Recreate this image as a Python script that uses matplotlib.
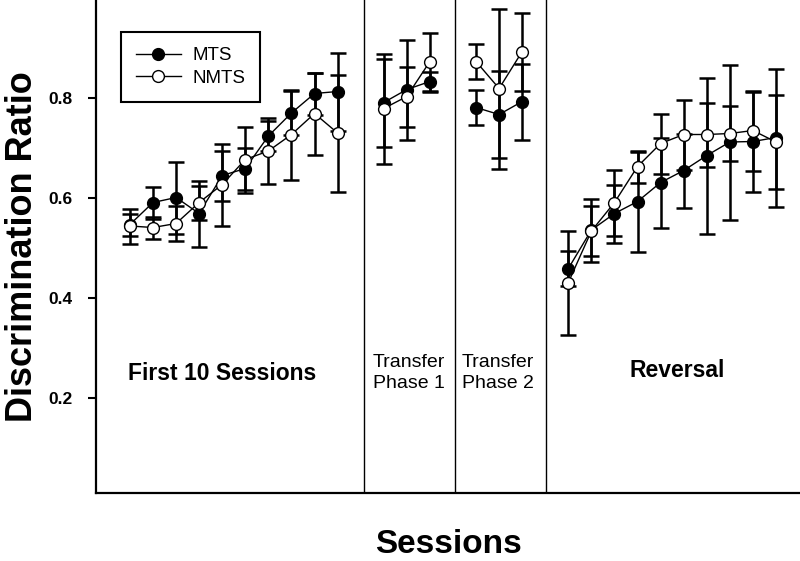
import numpy as np
import matplotlib
matplotlib.use('Agg')
import matplotlib.pyplot as plt

plt.rcParams['font.family'] = ['Liberation Sans', 'DejaVu Sans']

#
# data, session index on x
#
sess_first = [1, 2, 3, 4, 5, 6, 7, 8, 9, 10]
mts_first = [0.547, 0.591, 0.601, 0.569, 0.645, 0.659, 0.724, 0.770, 0.809, 0.813]
mts_first_err = [0.022, 0.032, 0.072, 0.066, 0.050, 0.042, 0.030, 0.044, 0.042, 0.078]
nmts_first = [0.544, 0.541, 0.549, 0.591, 0.627, 0.677, 0.694, 0.727, 0.769, 0.730]
nmts_first_err = [0.035, 0.022, 0.035, 0.034, 0.082, 0.066, 0.066, 0.090, 0.082, 0.117]

sess_tr1 = [12, 13, 14]
mts_tr1 = [0.791, 0.817, 0.833]
mts_tr1_err = [0.088, 0.100, 0.020]
nmts_tr1 = [0.779, 0.803, 0.873]
nmts_tr1_err = [0.110, 0.060, 0.058]

sess_tr2 = [16, 17, 18]
mts_tr2 = [0.781, 0.767, 0.793]
mts_tr2_err = [0.035, 0.087, 0.076]
nmts_tr2 = [0.873, 0.819, 0.893]
nmts_tr2_err = [0.035, 0.160, 0.078]

sess_rev = [20, 21, 22, 23, 24, 25, 26, 27, 28, 29]
mts_rev = [0.459, 0.536, 0.569, 0.593, 0.631, 0.655, 0.685, 0.712, 0.713, 0.721]
mts_rev_err = [0.035, 0.063, 0.058, 0.100, 0.090, 0.074, 0.156, 0.155, 0.100, 0.138]
nmts_rev = [0.431, 0.534, 0.591, 0.663, 0.709, 0.727, 0.727, 0.729, 0.735, 0.712]
nmts_rev_err = [0.104, 0.050, 0.066, 0.032, 0.060, 0.070, 0.064, 0.055, 0.080, 0.094]

yticks = [0.2, 0.4, 0.6, 0.8]
ytick_labels = ['0.2', '0.4', '0.6', '0.8']

#
# figure
#
fig = plt.figure(figsize=(8, 5.61), dpi=100)
ax = fig.add_axes([0.12, 0.1212, 0.88, 0.8788])

phases = [
    (sess_first, mts_first, mts_first_err, nmts_first, nmts_first_err),
    (sess_tr1, mts_tr1, mts_tr1_err, nmts_tr1, nmts_tr1_err),
    (sess_tr2, mts_tr2, mts_tr2_err, nmts_tr2, nmts_tr2_err),
    (sess_rev, mts_rev, mts_rev_err, nmts_rev, nmts_rev_err),
]

for i, (x, m, me, n, ne) in enumerate(phases):
    # error bars under the markers
    ax.errorbar(x, m, yerr=me, fmt='none', ecolor='black', elinewidth=1.8,
                capsize=5.5, capthick=1.8, zorder=2)
    ax.errorbar(x, n, yerr=ne, fmt='none', ecolor='black', elinewidth=1.8,
                capsize=5.5, capthick=1.8, zorder=2)
    ax.plot(x, m, '-o', color='black', lw=1.0, ms=8.5, mfc='black', mec='black',
            mew=1.0, zorder=3, label='MTS' if i == 0 else None)
    ax.plot(x, n, '-o', color='black', lw=1.0, ms=8.5, mfc='white', mec='black',
            mew=1.0, zorder=4, label='NMTS' if i == 0 else None)

# phase dividers
for xd in [11.14, 15.09, 19.03]:
    ax.axvline(xd, color='black', lw=1.0, zorder=1)

# phase labels
ax.text(5.0, 0.25, 'First 10 Sessions', ha='center', va='center',
        fontsize=16.5, fontweight='bold')
ax.text(13.1, 0.25, 'Transfer\nPhase 1', ha='center', va='center',
        fontsize=14, linespacing=1.3, fontweight='medium')
ax.text(16.95, 0.25, 'Transfer\nPhase 2', ha='center', va='center',
        fontsize=14, linespacing=1.3, fontweight='medium')
ax.text(24.7, 0.255, 'Reversal', ha='center', va='center',
        fontsize=16.5, fontweight='bold')

#
# axes
#
ax.set_xlim(-0.47, 30.04)
ax.set_ylim(0.01, 0.996)
ax.set_xticks([])
ax.set_yticks(yticks)
ax.set_yticklabels(ytick_labels, fontsize=12.5, fontweight='bold')
ax.tick_params(axis='y', direction='out', length=6, width=1.5, pad=11)
for s in ['top', 'right']:
    ax.spines[s].set_visible(False)
for s in ['left', 'bottom']:
    ax.spines[s].set_linewidth(1.6)

ax.set_ylabel('Discrimination Ratio', fontsize=26, fontweight='bold', labelpad=6)
ax.set_xlabel('Sessions', fontsize=24, fontweight='bold', labelpad=26)

leg = ax.legend(loc='upper left', bbox_to_anchor=(0.0355, 0.935), borderaxespad=0,
                fontsize=13.5, handlelength=2.4, handletextpad=0.6,
                labelspacing=0.3, borderpad=0.8, fancybox=False, framealpha=1)
leg.get_frame().set_edgecolor('black')
leg.get_frame().set_linewidth(1.5)

fig.savefig('out.png', dpi=100)
